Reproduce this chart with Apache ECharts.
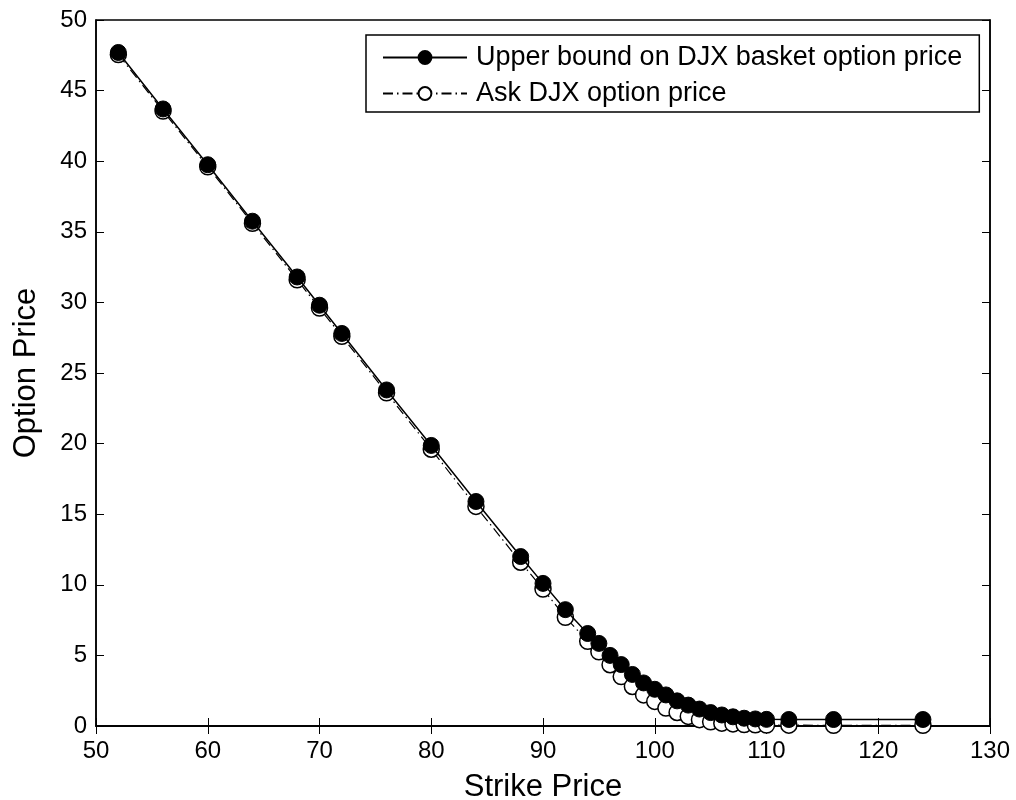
<!DOCTYPE html>
<html>
<head>
<meta charset="utf-8">
<script src="https://cdn.jsdelivr.net/npm/echarts@6/dist/echarts.min.js"></script>
<style>
html,body{margin:0;padding:0;background:#fff;}
#chart{width:1016px;height:800px;}
</style>
</head>
<body>
<div id="chart"></div>
<script>
// strike prices
var strikes = [52,56,60,64,68,70,72,76,80,84,88,90,92,94,95,96,97,98,99,100,101,102,103,104,105,106,107,108,109,110,112,116,124];
// upper bound on DJX basket option price
var upperBound = [47.7,43.7,39.75,35.75,31.8,29.8,27.8,23.8,19.87,15.9,12.0,10.1,8.24,6.55,5.85,5.0,4.35,3.65,3.05,2.6,2.2,1.78,1.48,1.2,0.95,0.78,0.65,0.55,0.5,0.47,0.46,0.46,0.46];
// ask DJX option price
var askPrice = [47.55,43.55,39.6,35.6,31.6,29.6,27.6,23.6,19.6,15.55,11.6,9.7,7.7,6.0,5.25,4.34,3.5,2.8,2.2,1.74,1.27,0.96,0.68,0.45,0.3,0.2,0.15,0.1,0.08,0.07,0.06,0.05,0.05];

var xTicks = [50,60,70,80,90,100,110,120,130];
var yTicks = [0,5,10,15,20,25,30,35,40,45,50];

function pairs(xs, ys){
    var out = [];
    for(var i=0;i<xs.length;i++){ out.push([xs[i], ys[i]]); }
    return out;
}

var myChart = echarts.init(document.getElementById('chart'));
var font = 'Liberation Sans, Arial, Helvetica, sans-serif';

//box axes: bottom/left with labels, top/right only ticks
function boxAxis(extra){
    var base = {
        type: 'value',
        axisLine: {show: true, lineStyle: {color: '#000', width: 1.5}},
        axisTick: {show: true, inside: true, length: 8, lineStyle: {color: '#000', width: 1}},
        axisLabel: {show: false},
        splitLine: {show: false}
    };
    for(var k in extra){ base[k] = extra[k]; }
    return base;
}

var option = {
    backgroundColor: '#fff',
    animation: false,
    textStyle: {fontFamily: font, color: '#000'},
    grid: {left: 96, right: 26, top: 20, bottom: 74, show: true, borderColor: '#000', borderWidth: 1.5, outerBoundsMode: 'none', containLabel: false},
    legend: {
        orient: 'vertical',
        left: 366, top: 35,
        padding: [9, 17, 5, 16],
        itemGap: 9,
        itemWidth: 84,
        itemHeight: 16,
        backgroundColor: '#fff',
        borderColor: '#000',
        borderWidth: 1.5,
        borderRadius: 0,
        textStyle: {fontFamily: font, fontSize: 27, color: '#000', padding: [0, 0, 0, 4]},
        data: ['Upper bound on DJX basket option price', 'Ask DJX option price']
    },
    xAxis: [
        boxAxis({
            min: xTicks[0], max: xTicks[xTicks.length-1], interval: 10,
            name: 'Strike Price', nameLocation: 'middle', nameGap: 46,
            nameTextStyle: {fontFamily: font, fontSize: 31, color: '#000'},
            axisLabel: {show: true, fontFamily: font, fontSize: 24, color: '#000', margin: 13}
        }),
        boxAxis({position: 'top', min: xTicks[0], max: xTicks[xTicks.length-1], interval: 10})
    ],
    yAxis: [
        boxAxis({
            min: yTicks[0], max: yTicks[yTicks.length-1], interval: 5,
            name: 'Option Price', nameLocation: 'middle', nameGap: 54,
            nameTextStyle: {fontFamily: font, fontSize: 31, color: '#000'},
            axisLabel: {show: true, fontFamily: font, fontSize: 24, color: '#000', margin: 9}
        }),
        boxAxis({position: 'right', min: yTicks[0], max: yTicks[yTicks.length-1], interval: 5})
    ],
    series: [
        {
            name: 'Ask DJX option price',
            type: 'line',
            z: 2,
            data: pairs(strikes, askPrice),
            symbol: 'circle',
            symbolSize: 16,
            showAllSymbol: true,
            lineStyle: {color: '#000', width: 1.2, type: [10, 4, 1.5, 4]},
            itemStyle: {color: '#fff', borderColor: '#000', borderWidth: 1.5}
        },
        {
            name: 'Upper bound on DJX basket option price',
            type: 'line',
            z: 3,
            data: pairs(strikes, upperBound),
            symbol: 'circle',
            symbolSize: 16,
            showAllSymbol: true,
            lineStyle: {color: '#000', width: 1.5},
            itemStyle: {color: '#000', borderColor: '#000', borderWidth: 1}
        }
    ]
};
myChart.setOption(option);
</script>
</body>
</html>
